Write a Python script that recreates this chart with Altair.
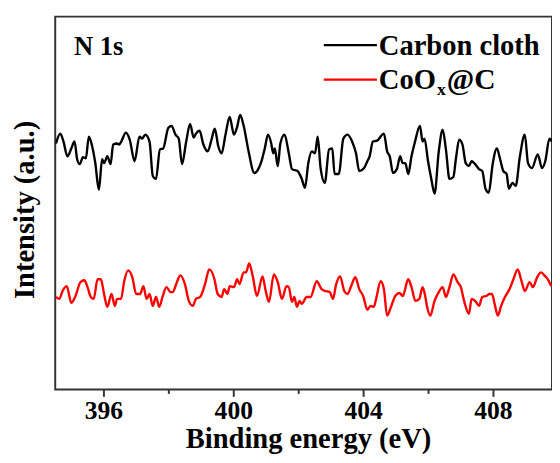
import altair as alt
import pandas as pd

# ---- data ----
series_names = ["Carbon cloth", "CoOx@C"]

carbon_energy = [
    394.54, 394.67, 394.77, 394.89, 395.01, 395.11, 395.19, 395.27, 395.37, 395.46,
    395.55, 395.64, 395.75, 395.86, 395.96, 396.02, 396.12, 396.22, 396.30, 396.42,
    396.48, 396.55, 396.69, 396.81, 396.96, 397.11, 397.19, 397.29, 397.42, 397.52,
    397.62, 397.74, 397.84, 398.00, 398.10, 398.22, 398.32, 398.42, 398.55, 398.67,
    398.78, 398.85, 398.96, 399.08, 399.21, 399.33, 399.43, 399.54, 399.64,
    399.76, 399.89, 400.02, 400.12, 400.21, 400.32, 400.46, 400.65, 400.77, 400.87,
    400.97, 401.07, 401.17, 401.23, 401.28, 401.37, 401.45, 401.58, 401.71, 401.81,
    401.98, 402.11, 402.21, 402.31, 402.42, 402.52, 402.60, 402.69, 402.82, 402.95,
    403.05, 403.12, 403.25, 403.39, 403.52, 403.66, 403.78, 403.88, 404.03, 404.13,
    404.20, 404.30, 404.43, 404.64,
    404.74, 404.82, 404.92, 405.04, 405.14, 405.22, 405.30, 405.39, 405.49, 405.60,
    405.75, 405.83, 405.89, 406.00, 406.10, 406.20, 406.33, 406.45, 406.55, 406.66,
    406.78, 406.86, 406.96, 407.06, 407.16, 407.26, 407.34, 407.45, 407.57, 407.67,
    407.77, 407.87, 407.99, 408.12, 408.22, 408.32, 408.42, 408.49, 408.60, 408.70,
    408.83, 408.98, 409.08, 409.20, 409.38, 409.51, 409.61, 409.74, 409.81,
]
carbon_intensity = [
    250, 260, 252, 237, 245, 252, 234, 229, 236, 235,
    257, 249, 230, 203, 234, 230, 237, 229, 249, 250,
    249, 252, 261, 254, 232, 257, 255, 259, 252, 217,
    214, 244, 245, 266, 268, 259, 255, 229, 252, 270,
    256, 260, 263, 249, 242, 254, 265, 247, 240,
    259, 277, 259, 267, 279, 268, 244, 220, 224, 232,
    245, 259, 250, 240, 245, 227, 250, 259, 240, 224,
    222, 214, 205, 230, 242, 240, 257, 225, 210, 244,
    245, 219, 219, 255, 259, 252, 240, 222, 225, 232,
    237, 252, 253, 260,
    242, 237, 220, 224, 237, 230, 230, 219, 237, 252,
    268, 252, 255, 232, 214, 199, 242, 264, 244, 214,
    216, 235, 254, 249, 230, 227, 232, 229, 224, 222,
    204, 200, 229, 245, 234, 222, 219, 204, 210, 207,
    237, 259, 230, 225, 239, 225, 232, 255, 252,
]

coox_energy = [
    394.54, 394.64, 394.74, 394.87, 395.01, 395.14, 395.29, 395.41, 395.51, 395.61,
    395.70, 395.82, 395.92, 396.02, 396.12, 396.25, 396.35, 396.42, 396.54, 396.64,
    396.76, 396.89, 397.01, 397.13, 397.23, 397.33, 397.42, 397.52, 397.62, 397.72,
    397.82, 397.94, 398.07, 398.14, 398.24, 398.37, 398.51, 398.63, 398.75, 398.85,
    398.98, 399.13, 399.26, 399.42, 399.52, 399.64,
    399.72, 399.82, 399.89, 400.02, 400.12, 400.19, 400.32, 400.39, 400.49, 400.60,
    400.73, 400.90, 401.00, 401.10, 401.25, 401.37, 401.50, 401.64, 401.71, 401.81,
    401.88, 401.96, 402.04, 402.11, 402.26, 402.38, 402.57, 402.72, 402.85, 402.97,
    403.07, 403.17, 403.29, 403.42, 403.52, 403.63, 403.76, 403.88, 404.00, 404.13,
    404.23, 404.33, 404.40, 404.54, 404.64,
    404.74, 404.86, 404.99, 405.12, 405.22, 405.39, 405.49, 405.61, 405.73, 405.83,
    405.90, 405.97, 406.07, 406.20, 406.33, 406.45, 406.55, 406.66, 406.78, 406.91,
    407.01, 407.11, 407.26, 407.34, 407.45, 407.57, 407.67, 407.79, 407.89, 407.97,
    408.05, 408.15, 408.25, 408.37, 408.51, 408.63, 408.76, 408.88, 408.98, 409.13,
    409.23, 409.36, 409.48, 409.61, 409.69, 409.79,
]
coox_intensity = [
    94, 92, 100, 105, 88, 95, 109, 111, 104, 94,
    92, 112, 112, 97, 84, 97, 85, 92, 92, 110,
    121, 114, 97, 97, 105, 92, 97, 85, 94, 84,
    94, 104, 99, 99, 107, 116, 107, 90, 85, 92,
    94, 107, 122, 112, 97, 94,
    102, 97, 105, 104, 112, 107, 119, 119, 128, 115,
    95, 115, 100, 89, 117, 109, 92, 105, 104, 89,
    94, 84, 90, 87, 94, 94, 110, 102, 100, 99,
    92, 107, 115, 100, 97, 105, 114, 102, 95, 81,
    85, 84, 92, 110, 102,
    75, 84, 95, 98, 95, 112, 104, 90, 92, 104,
    97, 84, 75, 90, 99, 104, 94, 104, 117, 109,
    104, 90, 77, 92, 90, 85, 94, 95, 97, 97,
    87, 75, 85, 94, 102, 112, 122, 110, 100, 109,
    104, 114, 119, 115, 112, 105,
]

x_tick_values = [396, 398, 400, 402, 404, 406, 408]
x_domain = [394.515, 409.818]
y_domain = [0, 379]
series_colors = ["#000000", "#ff0000"]

# ---- table ----
df = pd.concat([
    pd.DataFrame({"energy": carbon_energy, "intensity": carbon_intensity, "series": series_names[0]}),
    pd.DataFrame({"energy": coox_energy, "intensity": coox_intensity, "series": series_names[1]}),
], ignore_index=True)

FONT = "Liberation Serif"
W, H = 505, 379

lines = alt.Chart(df).mark_line(strokeWidth=2.4, clip=True, interpolate="monotone").encode(
    x=alt.X(
        "energy:Q",
        scale=alt.Scale(domain=x_domain, nice=False, zero=False),
        axis=alt.Axis(
            title="Binding energy (eV)",
            values=x_tick_values,
            labelExpr="datum.value % 4 == 0 ? datum.label : ''",
            tickSize={"condition": {"test": "datum.value % 4 == 0", "value": 7}, "value": 4},
            labelFontSize=26,
            labelPadding=2,
            titleFontSize=29,
            titlePadding=1,
            titleX=257,
            grid=False,
            domain=False,
        ),
    ),
    y=alt.Y(
        "intensity:Q",
        scale=alt.Scale(domain=y_domain, nice=False),
        axis=alt.Axis(
            title="Intensity (a.u.)",
            labels=False,
            ticks=False,
            grid=False,
            domain=False,
            titleFontSize=29,
            titlePadding=16,
            titleY=196,
        ),
    ),
    color=alt.Color(
        "series:N",
        scale=alt.Scale(domain=series_names, range=series_colors),
        legend=None,
    ),
    detail="series:N",
)

txt = dict(font=FONT, fontWeight="bold", color="#000000", align="left", baseline="alphabetic")

label_n1s = alt.Chart().mark_text(fontSize=27, **txt).encode(
    x=alt.value(19), y=alt.value(39), text=alt.value("N 1s"))

leg_line1 = alt.Chart().mark_rule(color="#000000", strokeWidth=2.4).encode(
    x=alt.value(273), x2=alt.value(327), y=alt.value(29))
leg_text1 = alt.Chart().mark_text(fontSize=29, **txt).encode(
    x=alt.value(329), y=alt.value(39), text=alt.value(series_names[0]))

leg_line2 = alt.Chart().mark_rule(color="#ff0000", strokeWidth=2.4).encode(
    x=alt.value(273), x2=alt.value(327), y=alt.value(64))
leg_text2a = alt.Chart().mark_text(fontSize=29, **txt).encode(
    x=alt.value(329), y=alt.value(74), text=alt.value("CoO"))
leg_text2b = alt.Chart().mark_text(fontSize=18, **txt).encode(
    x=alt.value(388), y=alt.value(80), text=alt.value("x"))
leg_text2c = alt.Chart().mark_text(fontSize=30, **txt).encode(
    x=alt.value(398), y=alt.value(74), text=alt.value("@C"))

chart = alt.layer(
    lines, label_n1s, leg_line1, leg_text1, leg_line2, leg_text2a, leg_text2b, leg_text2c
).properties(
    width=W, height=H,
    background="white",
    autosize=alt.AutoSizeParams(type="none"),
    padding={"left": 48, "top": 5, "right": 0, "bottom": 70},
).configure_view(
    stroke="#333333", strokeWidth=2,
).configure_axis(
    labelFont=FONT, titleFont=FONT,
    labelFontWeight="bold", titleFontWeight="bold",
    labelColor="#000000", titleColor="#000000",
    tickColor="#333333", tickWidth=2,
)

chart.save("out.html", embed_options={"renderer": "svg", "actions": False})
